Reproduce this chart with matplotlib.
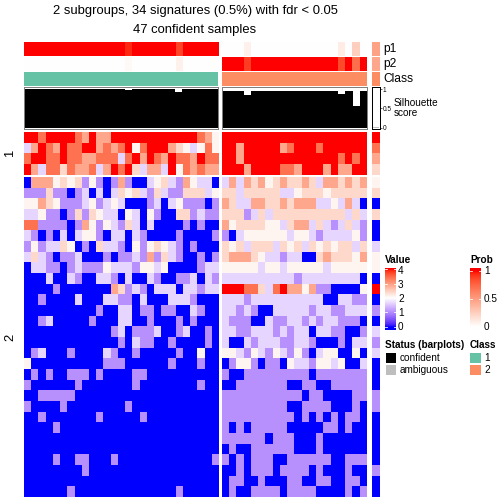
import numpy as np
import matplotlib
matplotlib.use('Agg')
import matplotlib.pyplot as plt
from matplotlib.colors import ListedColormap
from matplotlib.patches import Rectangle

plt.rcParams['font.family'] = ['Liberation Sans', 'DejaVu Sans']

W = H = 504

# value levels
LEVELS = {'B': 0.0, 'L': 1.05, 'l': 1.65, 'W': 2.1, 'p': 2.4, 's': 2.9, 'o': 3.4, 'R': 4.0}

# signature group 1: class-1 samples (27) | class-2 samples (20) | ambiguous sample
group1_rows = [
    "RRoRRRRosRssRRRRRRRRRRRRosW RRRRRRRRRRRRRRRRRRRR R",
    "lsRosRooRRsosoRWoRRRspWlWoW RRsRRRRRsoRRRoRRRRRR o",
    "oRRooRoossoooloRsRosRoosRoo RRsRRRRRRRRRRRRRoRoR s",
    "RsloopossolsRoRplsslRWososs RRRsRRRRoosRRRsRssRR p",
]
group2_rows = [
    "BsssWpWpLWLBLsLBBlWplLsWllB lslspsWpsppsplsspsps W",
    "LLLpLLBLlBlBlpWplLplLLppplW pplpppppllWpppWppppp p",
    "WWspWLLLlWLlWlBBBLlBlWLLLBL spllssppspsssllWlslB B",
    "llWLLBLpLpWllBWlBWLBBppLlLL pppLlplpppppppppplpl p",
    "ooLLLLBLsWLWlLplBlBBBBLBLBB sWppppWWlpsslplLlplL B",
    "lLBLBlBlWWLBllBlLBBBBLBBBBL LBlWWWWWWlWWlLllllWL B",
    "LWLllpWBLBpllLBWLWpWlLBLBBB pWplppplpWplpWpWpplp l",
    "lplLBLLlBBBLBLLlLsLplLBBLBL pssspWllLllBBpspppWs W",
    "BllLLBLlLLLWlllLWWlWBBBBLll WWWWWlWWlWWWWWlWWWWW W",
    "BBBlBBlLBBllLBlBBlLBBLLlBlL llllllllllLllllllllB B",
    "BBBBLBBBBBBBspLlLBlllBllLll RRRooploRssWsLLBBBBW R",
    "BBLBBBBlBBBllLLBlBBBlllLBBB lllLllllllllllBBllLL B",
    "BBBBBBBBBBLBBllBLLBLLBBlLBB llLlLBBlllllLllLLlll L",
    "BBLlBBBBBLBBBllBBLBBBLBLBBB lLLLBBlLLllLlLllLLLB B",
    "BBBBBBBBBBBBLlBLLLlBBLlBBLB llLLlllLlLllBllLLBBL l",
    "BBBBBBBBBBBBBLBlLLBBLBBBBLB lBBlLlllLLllLBBBLBll L",
    "BLlBBBLBBBBlLBBLBBBBBLBBWBB WWlLWlLWlLWLBlWWBBWB l",
    "WBBBBBBBBBBLLLBBBBBBLBBBLBB BLWWLBLLBWllLWWlWBBl B",
    "BLBLBBLLLBLBBBBLLBBBBBBBBBB LBBLLLLLLLLLBLLLLLLL B",
    "LBBBBBBLBBBBBBBLBBBBBBBBLBB BBLLLLLLLBBLLBBLLLLL B",
    "BBLLLLLBBBBBBBBBBBBBBBBBBBB LLLLLLLLLLLBLLBBBBLL L",
    "LBBBBLBBBBBBBBLBBBBBBBBBBBB LLLLLLLLLBBLLLLBBBLB L",
    "BBLBBBBBBBLBBBBBLBBBBBBBBBB LLLLLLLLLLBLBLBLBLLB B",
    "BBBBLBBBBBBBBBBBBBBBBBBBBBB LBLBLLLLLBBBBBLLBLBB B",
    "BBBBBBBBBBBBBBBBBBBBBBBBBBB LLLLLLBLLLBBBLBBBBBB B",
    "BBBBBBBBBBBBBBBBBBBBBBBBBBB BLBBLLLLLLBBBLBBBBBB B",
    "BBBBLBBLLBBBLBBBBBBBBBBBBBL LBLBLLLBBLLLLLLBBLLL B",
    "BBBBBBBBLBBBBBBBBBBBBBBBBBB BBLBLLLBLLLLBLBBBLBB L",
    "BBBBBBBBBBBBBBBBBBBBBBBBBBB BLLBBLBBBLLBBLLBBLLB B",
    "BBBBBBLBBBBBBBBBBBBBBLBBBBB BLBBLLLLBLLLLBBBBLBL B",
]

p1_class1 = [1, 1, 1, 1, 1, 1, 1, 1, 1, 1, 1, 1, 1, 1, 0.95, 1, 1, 1, 1, 1, 1, 0.88, 1, 1, 1, 1, 1]
p2_class1 = [0, 0, 0, 0, 0, 0, 0, 0, 0, 0, 0, 0, 0, 0, 0.03, 0, 0, 0, 0, 0, 0, 0.08, 0, 0, 0, 0, 0]
p1_class2 = [0, 0, 0, 0.08, 0, 0, 0, 0, 0, 0, 0, 0, 0, 0, 0, 0, 0.1, 0, 0.25, 0]
p2_class2 = [1, 1, 1, 0.9, 1, 1, 1, 1, 1, 1, 1, 1, 1, 1, 1, 1, 0.86, 1, 0.72, 1]
p1_amb = [0.48]
p2_amb = [0.45]

sil_class1 = [1, 1, 1, 1, 1, 1, 1, 1, 1, 1, 1, 1, 1, 1, 0.99, 1, 1, 1, 1, 1, 1, 0.93, 1, 1, 1, 1, 1]
sil_class2 = [0.96, 0.96, 0.96, 0.86, 0.96, 0.96, 0.96, 0.96, 0.96, 0.96,
              0.96, 0.96, 0.96, 0.96, 0.96, 0.96, 0.885, 0.96, 0.565, 0.96]
sil_amb = [0.02]

CLASS_COLORS = {1: '#66C2A5', 2: '#FC8D62'}

M_RGB2XYZ = np.array([[0.4124, 0.3576, 0.1805], [0.2126, 0.7152, 0.0722], [0.0193, 0.1192, 0.9505]])
WHITE = np.array([0.95047, 1.0, 1.08883])


def srgb_to_lab(rgb):
    rgb = np.asarray(rgb, float)
    lin = np.where(rgb <= 0.04045, rgb / 12.92, ((rgb + 0.055) / 1.055) ** 2.4)
    xyz = lin @ M_RGB2XYZ.T / WHITE
    f = np.where(xyz > 0.008856, np.cbrt(xyz), 7.787 * xyz + 16 / 116)
    return np.stack([116 * f[..., 1] - 16, 500 * (f[..., 0] - f[..., 1]),
                     200 * (f[..., 1] - f[..., 2])], -1)


def lab_to_srgb(lab):
    fy = (lab[..., 0] + 16) / 116
    f = np.stack([fy + lab[..., 1] / 500, fy, fy - lab[..., 2] / 200], -1)
    xyz = np.where(f ** 3 > 0.008856, f ** 3, (f - 16 / 116) / 7.787) * WHITE
    lin = np.clip(xyz @ np.linalg.inv(M_RGB2XYZ).T, 0, 1)
    rgb = np.where(lin <= 0.0031308, 12.92 * lin, 1.055 * lin ** (1 / 2.4) - 0.055)
    return np.clip(rgb, 0, 1)


def lab_cmap(colors, n=256):
    # ComplexHeatmap-style colour ramp interpolated in LAB space
    labs = srgb_to_lab(np.array(colors))
    t = np.linspace(0, 1, n)
    pos = np.linspace(0, 1, len(colors))
    lab = np.stack([np.interp(t, pos, labs[:, k]) for k in range(3)], -1)
    return ListedColormap(lab_to_srgb(lab))


value_cmap = lab_cmap([(0, 0, 1), (1, 1, 1), (1, 0, 0)])
prob_cmap = lab_cmap([(1, 1, 1), (1, 0, 0)])


def px_axes(x0, y0, x1, y1):
    return fig.add_axes([x0 / W, 1 - y1 / H, (x1 - x0) / W, (y1 - y0) / H])


def ftext(x, y, s, **kw):
    kw.setdefault('va', 'center')
    fig.text(x / W, 1 - y / H, s, **kw)


def rect(x0, y0, x1, y1, color):
    fig.add_artist(Rectangle((x0 / W, 1 - y1 / H), (x1 - x0) / W, (y1 - y0) / H,
                             facecolor=color, edgecolor='none', transform=fig.transFigure))


def block(x0, y0, x1, y1, mat, cmap, vmin, vmax):
    ax = px_axes(x0, y0, x1, y1)
    ax.imshow(np.atleast_2d(mat), cmap=cmap, vmin=vmin, vmax=vmax,
              aspect='auto', interpolation='nearest')
    ax.set_axis_off()
    return ax


def sil_block(x0, x1, vals, color, edge):
    ax = px_axes(x0, 87.5, x1, 129)
    ax.bar(np.arange(len(vals)), vals, width=1, color=color, linewidth=0)
    ax.set_xlim(-0.5, len(vals) - 0.5)
    ax.set_ylim(-0.034, 1.047)
    ax.set_xticks([])
    ax.set_yticks([])
    for sp in ax.spines.values():
        sp.set_color(edge)
        sp.set_linewidth(1)
    return ax


def parse(rows):
    parts = [r.split() for r in rows]
    return [np.array([[LEVELS[c] for c in p[k]] for p in parts]) for k in range(3)]


fig = plt.figure(figsize=(7, 7), dpi=72)

cols = [(24, 218.2), (222, 367), (372.3, 379.5)]
row_slices = [(132, 174.7, parse(group1_rows)), (177.3, 497.3, parse(group2_rows))]

for y0, y1, mats in row_slices:
    for (x0, x1), mat in zip(cols, mats):
        block(x0, y0, x1, y1, mat, value_cmap, 0, 4)

# top annotations
p1s = [p1_class1, p1_class2, p1_amb]
p2s = [p2_class1, p2_class2, p2_amb]
classes = [1, 2, 2]
for (x0, x1), p1, p2, cl in zip(cols, p1s, p2s, classes):
    block(x0, 41.7, x1, 56.2, [p1], prob_cmap, 0, 1)
    block(x0, 56.7, x1, 71.2, [p2], prob_cmap, 0, 1)
    ax = px_axes(x0, 71.7, x1, 86.2)
    ax.set_facecolor(CLASS_COLORS[cl])
    ax.set_xticks([])
    ax.set_yticks([])
    for sp in ax.spines.values():
        sp.set_visible(False)

sil_block(24, 218.2, sil_class1, 'black', '#7f7f7f')
sil_block(222, 367, sil_class2, 'black', '#7f7f7f')
ax = sil_block(372.3, 379.5, sil_amb, '#BEBEBE', 'black')
ax.yaxis.tick_right()
ax.set_yticks([0, 0.5, 1])
ax.set_yticklabels(['0', '0.5', '1'])
ax.tick_params(axis='y', labelsize=6.5, length=2, pad=1, width=0.6, colors='black')

ftext(383, 49, 'p1', fontsize=12)
ftext(383, 64, 'p2', fontsize=12)
ftext(383, 79, 'Class', fontsize=12)
ftext(394, 108, 'Silhouette\nscore', fontsize=10, linespacing=0.95)

# titles
ftext(195, 11, '2 subgroups, 34 signatures (0.5%) with fdr < 0.05', fontsize=13, ha='center')
ftext(195, 30, '47 confident samples', fontsize=13, ha='center')
ftext(10, 153, '1', fontsize=13, rotation=90, ha='center')
ftext(10, 337, '2', fontsize=13, rotation=90, ha='center')

# legends
ftext(385, 260, 'Value', fontsize=10, fontweight='bold')
axv = px_axes(385, 268, 396, 330)
axv.imshow(np.linspace(4.07, -0.21, 200)[:, None], cmap=value_cmap, vmin=0, vmax=4,
           aspect='auto', extent=[0, 1, -0.21, 4.07])
axv.set_xlim(0, 1)
axv.set_ylim(-0.21, 4.07)
axv.set_axis_off()
for v in range(5):
    axv.plot([0, 0.2], [v, v], color='white', lw=0.8)
    axv.plot([0.8, 1], [v, v], color='white', lw=0.8)
    ftext(398, 327 - 14 * v, str(v), fontsize=10)

ftext(470, 260, 'Prob', fontsize=10, fontweight='bold')
axp = px_axes(470, 268, 481, 330)
axp.imshow(np.linspace(1.054, -0.054, 200)[:, None], cmap=prob_cmap, vmin=0, vmax=1,
           aspect='auto', extent=[0, 1, -0.054, 1.054])
axp.set_xlim(0, 1)
axp.set_ylim(-0.054, 1.054)
axp.set_axis_off()
for v, lab in [(0, '0'), (0.5, '0.5'), (1, '1')]:
    axp.plot([0, 0.2], [v, v], color='white', lw=0.8)
    axp.plot([0.8, 1], [v, v], color='white', lw=0.8)
    ftext(484, 327 - 56 * v, lab, fontsize=10)

ftext(385, 345, 'Status (barplots)', fontsize=10, fontweight='bold')
rect(385.7, 352.5, 396.3, 363, 'black')
rect(385.7, 364.5, 396.3, 375, '#BEBEBE')
ftext(400, 358, 'confident', fontsize=10)
ftext(400, 370, 'ambiguous', fontsize=10)

ftext(470, 345, 'Class', fontsize=10, fontweight='bold')
rect(470, 352.5, 481, 363, CLASS_COLORS[1])
rect(470, 364.5, 481, 375, CLASS_COLORS[2])
ftext(484, 358, '1', fontsize=10)
ftext(484, 370, '2', fontsize=10)

fig.savefig('out.png', dpi=72)
